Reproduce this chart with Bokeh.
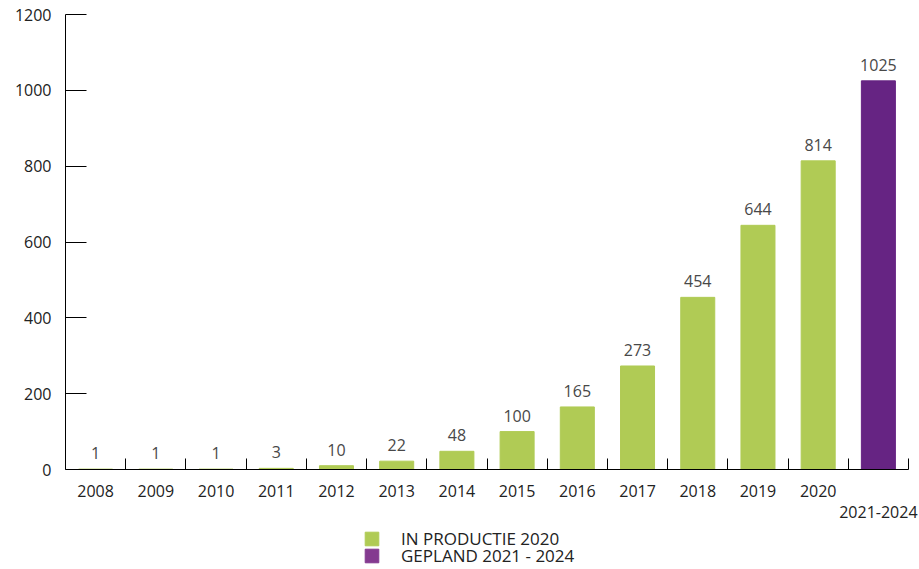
from bokeh.plotting import figure
from bokeh.layouts import column
from bokeh.models import (Range1d, FixedTicker, LinearAxis, Legend, LegendItem,
                          ColumnDataSource)
from bokeh.core.properties import value as V
from bokeh.embed import file_html
from bokeh.resources import INLINE

# ---- data ----
categories = ["2008", "2009", "2010", "2011", "2012", "2013", "2014",
              "2015", "2016", "2017", "2018", "2019", "2020", "2021-2024"]
values = [1, 1, 1, 3, 10, 22, 48, 100, 165, 273, 454, 644, 814, 1025]
series = ["IN PRODUCTIE 2020"] * 13 + ["GEPLAND 2021 - 2024"]
y_ticks = [0, 200, 400, 600, 800, 1000, 1200]

GREEN = "#b0cb55"
PURPLE = "#662483"
LEGEND_PURPLE = "#843a90"
FONT = "Open Sans"

n = len(categories)
centers = [i + 0.5 for i in range(n)]
boundaries = [i for i in range(1, n + 1)]
colors = [GREEN if s == series[0] else PURPLE for s in series]

src = ColumnDataSource(dict(x=centers, top=values, color=colors,
                            label=[str(v) for v in values]))

p = figure(width=919, height=524, output_backend="svg", toolbar_location=None,
           x_range=Range1d(0, n), y_range=Range1d(0, 1200),
           x_axis_type=None, min_border_left=65, min_border_right=11,
           min_border_top=14, min_border_bottom=55)
p.outline_line_color = None
p.xgrid.visible = False
p.ygrid.visible = False

p.vbar(x="x", top="top", width=0.565, color="color", source=src)
p.text(x="x", y="top", text="label", source=src, text_align="center",
       text_baseline="alphabetic", y_offset=-16, text_font=V(FONT),
       text_font_size="16px", text_color="#484848")

# y axis
ya = p.yaxis[0]
ya.ticker = FixedTicker(ticks=y_ticks)
ya.major_tick_in = 21
ya.major_tick_out = 0
ya.minor_tick_line_color = None
ya.major_label_standoff = 14
ya.major_label_text_font = FONT
ya.major_label_text_font_size = "16px"
ya.major_label_text_color = "#222222"
ya.axis_line_color = "black"
ya.major_tick_line_color = "black"

# x axis: labels at centres, boundary ticks as minor ticks
xa = LinearAxis(ticker=FixedTicker(ticks=centers[:-1], minor_ticks=boundaries))
xa.major_label_overrides = {c: lab for c, lab in zip(centers[:-1], categories[:-1])}
xa.major_tick_line_color = None
xa.major_tick_in = 0
xa.major_tick_out = 0
xa.minor_tick_in = 11
xa.minor_tick_out = 0
xa.minor_tick_line_color = "black"
xa.axis_line_color = "black"
xa.major_label_standoff = 15
xa.major_label_text_font = FONT
xa.major_label_text_font_size = "16px"
xa.major_label_text_color = "#222222"
p.add_layout(xa, "below")

xb = LinearAxis(ticker=FixedTicker(ticks=centers[-1:]))
xb.major_label_overrides = {centers[-1]: categories[-1]}
xb.axis_line_color = None
xb.major_tick_line_color = None
xb.minor_tick_line_color = None
xb.major_tick_in = 0
xb.major_tick_out = 0
xb.major_label_standoff = 6
xb.major_label_text_font = FONT
xb.major_label_text_font_size = "16px"
xb.major_label_text_color = "#222222"
p.add_layout(xb, "below")

# ---- legend strip (separate figure below the chart) ----
p2 = figure(width=919, height=45, output_backend="svg", toolbar_location=None,
            x_range=Range1d(0, n), y_range=Range1d(0, 1200),
            x_axis_type=None, y_axis_type=None, min_border=0)
p2.outline_line_color = None
p2.xgrid.visible = False
p2.ygrid.visible = False
g1 = p2.vbar(x="x", top="top", width=0.565, color=GREEN, source=src, visible=False)
g2 = p2.vbar(x="x", top="top", width=0.565, color=LEGEND_PURPLE, source=src, visible=False)

legend_style = dict(padding=0, margin=0, spacing=0,
                    glyph_width=17, glyph_height=17, label_height=25,
                    label_standoff=21, border_line_color=None,
                    background_fill_alpha=0, inactive_fill_alpha=0,
                    label_text_font=FONT, label_text_font_size="17px",
                    label_text_color="#222222")
leg1 = Legend(items=[LegendItem(label=series[0], renderers=[g1])],
              location=(298, 18), **legend_style)
leg2 = Legend(items=[LegendItem(label=series[-1], renderers=[g2])],
              location=(298, 1), **legend_style)
p2.add_layout(leg1, "center")
p2.add_layout(leg2, "center")

layout = column(p, p2, spacing=0)
open("out.html", "w").write(file_html(layout, INLINE))
